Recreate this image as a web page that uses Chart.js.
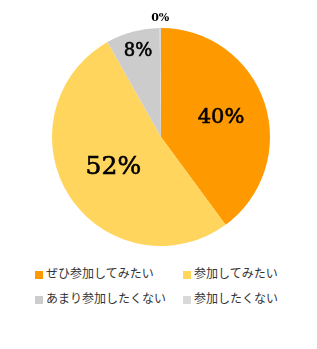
<!DOCTYPE html>
<html>
<head>
<meta charset="utf-8">
<script src="https://cdn.jsdelivr.net/npm/chart.js@4/dist/chart.umd.min.js"></script>
<style>
body{margin:0;background:#fff;width:317px;height:349px;position:relative;overflow:hidden;}
#wrap{position:absolute;left:0;top:0;width:317px;height:250px;}
#legend{position:absolute;left:35px;top:265px;width:280px;font-family:"Noto Sans CJK JP",sans-serif;font-size:12px;color:#333;}
.item{position:absolute;white-space:nowrap;line-height:16px;}
.box{display:inline-block;width:8px;height:8px;margin-right:3px;vertical-align:-1px;}
</style>
</head>
<body>
<div id="wrap"><canvas id="chart" width="317" height="250"></canvas></div>
<div id="legend"></div>
<script>
var labels = ["ぜひ参加してみたい", "参加してみたい", "あまり参加したくない", "参加したくない"];
var values = [40, 52, 8, 0.2];
var pctText = ["40%", "52%", "8%", "0%"];
var colors = ["#ff9900", "#ffd55d", "#cccccc", "#d9d9d9"];

// label placement (fraction of radius) and font per slice
var labelPos = [0.58, 0.52, 0.81, 1.09];
var labelFont = ["21px", "25px", "18px", "bold 11px"];

var pctLabels = {
  id: "pctLabels",
  afterDatasetsDraw: function(chart){
    var ctx = chart.ctx;
    var meta = chart.getDatasetMeta(0);
    ctx.save();
    ctx.fillStyle = "#000";
    ctx.strokeStyle = "#000";
    ctx.lineWidth = 0.6;
    ctx.textAlign = "center";
    ctx.textBaseline = "middle";
    meta.data.forEach(function(arc, i){
      var mid = (arc.startAngle + arc.endAngle) / 2;
      var r = arc.outerRadius * labelPos[i];
      var x = arc.x + Math.cos(mid) * r;
      var y = arc.y + Math.sin(mid) * r;
      ctx.font = labelFont[i] + ' "DejaVu Serif", serif';
      ctx.fillText(pctText[i], x, y);
      if (i < 3) ctx.strokeText(pctText[i], x, y);
    });
    ctx.restore();
  }
};

new Chart(document.getElementById("chart"), {
  type: "pie",
  data: {
    labels: labels,
    datasets: [{
      data: values,
      backgroundColor: colors,
      borderWidth: 0
    }]
  },
  options: {
    responsive: false,
    animation: false,
    layout: {padding: {top: 28, bottom: 4, left: 52, right: 47}},
    plugins: {legend: {display: false}, tooltip: {enabled: false}}
  },
  plugins: [pctLabels]
});

var lg = document.getElementById("legend");
var pos = [[0, 0], [148, 0], [0, 25], [148, 25]];
labels.forEach(function(l, i){
  var d = document.createElement("div");
  d.className = "item";
  d.style.left = pos[i][0] + "px";
  d.style.top = pos[i][1] + "px";
  d.innerHTML = '<span class="box" style="background:' + colors[i] + '"></span>' + l;
  lg.appendChild(d);
});
</script>
</body>
</html>
